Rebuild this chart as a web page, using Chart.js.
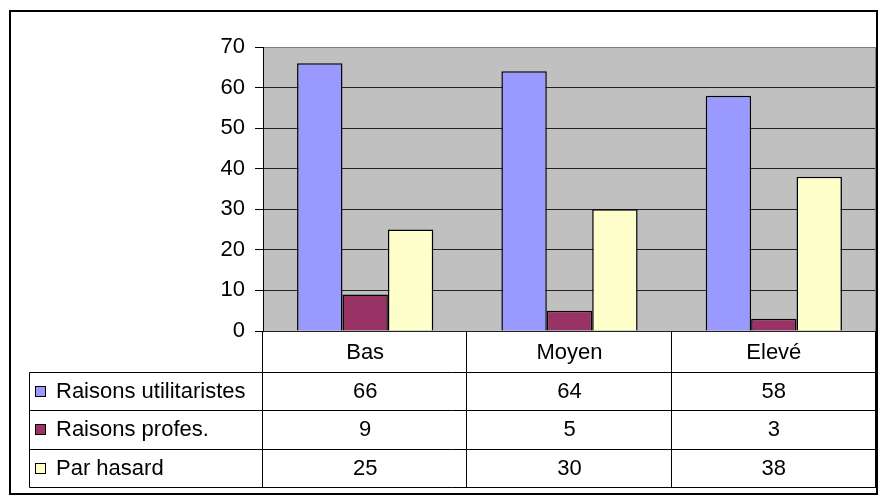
<!DOCTYPE html>
<html>
<head>
<meta charset="utf-8">
<script src="https://cdn.jsdelivr.net/npm/chart.js@4"></script>
<style>
  html, body { margin: 0; padding: 0; background: #fff; }
  #wrap { width: 879px; height: 497px; }
</style>
</head>
<body>
<div id="wrap"><canvas id="myChart" width="879" height="497"></canvas></div>
<script>
var categories = ['Bas', 'Moyen', 'Elevé'];
var utilitaristes = [66, 64, 58];
var profes = [9, 5, 3];
var hasard = [25, 30, 38];
var seriesNames = ['Raisons utilitaristes', 'Raisons profes.', 'Par hasard'];
var yTicks = [0, 10, 20, 30, 40, 50, 60, 70];

var FONT = '22px "Liberation Sans", Arial, sans-serif';

// grey plot background + outer frame
var backdrop = {
    id: 'backdrop',
    beforeDraw: function (chart) {
        var c = chart.ctx, a = chart.chartArea;
        c.save();
        c.fillStyle = '#fff';
        c.fillRect(0, 0, chart.width, chart.height);
        c.strokeStyle = '#000';
        c.lineWidth = 2;
        c.strokeRect(10, 11, chart.width - 12, chart.height - 14);
        c.fillStyle = '#c0c0c0';
        c.fillRect(a.left, a.top, a.right - a.left, a.bottom - a.top);
        c.restore();
    },
    beforeDatasetsDraw: function (chart) {
        // right edge of plot area
        var c = chart.ctx, a = chart.chartArea;
        c.save();
        c.strokeStyle = '#808080';
        c.lineWidth = 1;
        c.beginPath();
        c.moveTo(Math.round(a.right) - 0.5, a.top);
        c.lineTo(Math.round(a.right) - 0.5, a.bottom);
        c.stroke();
        c.restore();
    }
};

// data table under the plot, one column per category
var dataTable = {
    id: 'dataTable',
    afterDraw: function (chart) {
        var c = chart.ctx, a = chart.chartArea, xs = chart.scales.x;
        var n = chart.data.labels.length;
        var catW = (a.right - a.left) / n;
        var legendLeft = 29.5;
        var top = Math.round(a.bottom) + 0.5;
        var headH = 40, rowH = 38.5;
        var rows = [top, top + headH];
        for (var r = 0; r < chart.data.datasets.length; r++) rows.push(top + headH + rowH * (r + 1));
        var bottom = rows[rows.length - 1];

        c.save();
        c.strokeStyle = '#000';
        c.lineWidth = 1;
        c.beginPath();
        // horizontal lines
        for (var i = 1; i < rows.length; i++) {
            var yy = Math.round(rows[i]) + 0.5;
            c.moveTo(legendLeft, yy);
            c.lineTo(Math.round(a.right), yy);
        }
        // vertical lines
        c.moveTo(legendLeft, Math.round(rows[1]) + 0.5);
        c.lineTo(legendLeft, Math.round(bottom) + 0.5);
        for (var k = 0; k <= n; k++) {
            var xx = Math.round(a.left + catW * k) - 0.5;
            c.moveTo(xx, top);
            c.lineTo(xx, Math.round(bottom) + 0.5);
        }
        c.stroke();

        c.font = FONT;
        c.fillStyle = '#000';
        c.textBaseline = 'middle';
        c.textAlign = 'center';
        // header: category names
        chart.data.labels.forEach(function (lab, i) {
            c.fillText(lab, xs.getPixelForValue(i), (rows[0] + rows[1]) / 2 + 1);
        });
        // values and legend keys
        chart.data.datasets.forEach(function (ds, r) {
            var cy = (rows[r + 1] + rows[r + 2]) / 2 + 1;
            ds.data.forEach(function (v, i) {
                c.textAlign = 'center';
                c.fillText(String(v), xs.getPixelForValue(i), cy);
            });
            c.fillStyle = ds.backgroundColor;
            c.fillRect(35.5, Math.round(cy - 6) + 0.5, 10, 10);
            c.strokeRect(35.5, Math.round(cy - 6) + 0.5, 10, 10);
            c.fillStyle = '#000';
            c.textAlign = 'left';
            c.fillText(ds.label, 56, cy);
        });
        c.restore();
    }
};

document.addEventListener('DOMContentLoaded', function () {
    var ctx = document.getElementById('myChart').getContext('2d');
    var myChart = new Chart(ctx, {
        type: 'bar',
        data: {
            labels: categories,
            datasets: [{
                label: seriesNames[0],
                data: utilitaristes,
                backgroundColor: '#9999ff'
            }, {
                label: seriesNames[1],
                data: profes,
                backgroundColor: '#993366'
            }, {
                label: seriesNames[2],
                data: hasard,
                backgroundColor: '#ffffcc'
            }]
        },
        options: {
            responsive: false,
            animation: false,
            layout: { padding: { left: 0, right: 3, top: 47, bottom: 166 } },
            datasets: {
                bar: {
                    borderColor: '#000',
                    borderWidth: 1.5,
                    categoryPercentage: 2 / 3,
                    barPercentage: 1
                }
            },
            plugins: {
                legend: { display: false },
                tooltip: { enabled: false }
            },
            scales: {
                x: { display: false },
                y: {
                    min: yTicks[0],
                    max: yTicks[yTicks.length - 1],
                    afterFit: function (scale) { scale.width = 263; },
                    afterBuildTicks: function (scale) {
                        scale.ticks = yTicks.map(function (v) { return { value: v }; });
                    },
                    ticks: {
                        color: '#000',
                        padding: 10,
                        font: { family: '"Liberation Sans", Arial, sans-serif', size: 22 }
                    },
                    grid: {
                        color: function (c) { return c.tick && c.tick.value === 70 ? '#808080' : '#222'; },
                        tickColor: '#000',
                        tickLength: 8
                    },
                    border: { color: '#000' }
                }
            }
        },
        plugins: [backdrop, dataTable]
    });
});
</script>
</body>
</html>
